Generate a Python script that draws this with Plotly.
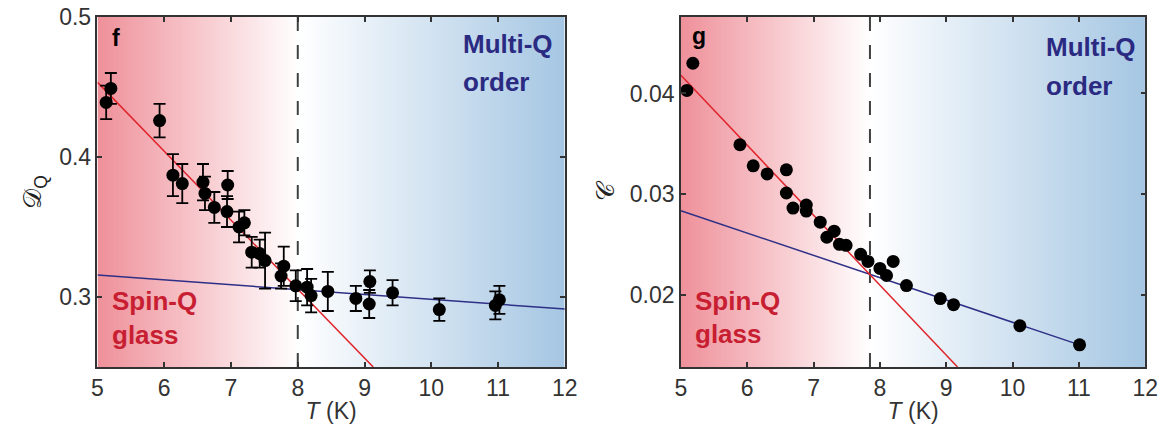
import numpy as np
import plotly.graph_objects as go

# ---------------- data ----------------
# panel f : D_Q vs T with error bars
f_T = [5.13, 5.20, 5.93, 6.13, 6.27, 6.58, 6.61, 6.75, 6.95, 6.94, 7.12, 7.20, 7.31, 7.43,
       7.51, 7.75, 7.79, 7.97, 8.14, 8.20, 8.45, 8.87, 9.08, 9.07, 9.42, 10.12, 10.96, 11.02]
f_D = [0.439, 0.449, 0.426, 0.387, 0.381, 0.382, 0.374, 0.364, 0.380, 0.361, 0.350, 0.353, 0.332, 0.331,
       0.326, 0.315, 0.322, 0.308, 0.307, 0.301, 0.304, 0.299, 0.311, 0.295, 0.303, 0.291, 0.294, 0.298]
f_err = [0.012, 0.011, 0.012, 0.015, 0.014, 0.013, 0.012, 0.011, 0.010, 0.011, 0.011, 0.009, 0.011, 0.010,
         0.020, 0.009, 0.014, 0.011, 0.013, 0.012, 0.014, 0.009, 0.008, 0.010, 0.009, 0.008, 0.010, 0.010]
f_red_T = [5.0, 9.13]
f_red_D = [0.4533, 0.2500]
f_blue_T = [5.0, 12.0]
f_blue_D = [0.3157, 0.2914]
f_Tc = 8.0

# panel g : C vs T
g_T = [5.09, 5.18, 5.89, 6.09, 6.30, 6.59, 6.59, 6.69, 6.89, 6.89, 7.10, 7.20, 7.31, 7.39, 7.49,
       7.71, 7.82, 8.00, 8.10, 8.20, 8.40, 8.91, 9.11, 10.11, 11.01]
g_C = [0.0403, 0.0430, 0.0349, 0.0328, 0.0320, 0.0324, 0.0301, 0.0286, 0.0289, 0.0283, 0.0272, 0.0257,
       0.0263, 0.0250, 0.0249, 0.0240, 0.0233, 0.0226, 0.0219, 0.0233, 0.0209, 0.0196, 0.0190, 0.0169, 0.0150]
g_red_T = [5.0, 9.17]
g_red_C = [0.0418, 0.0128]
g_blue_T = [5.0, 11.01]
g_blue_C = [0.02834, 0.0150]
g_Tc = 7.85

x_range = [5, 12]
f_yrange = [0.25, 0.5]
g_yrange = [0.0128, 0.0476]

# ---------------- style ----------------
FONT = "Liberation Sans"
RED_BG = "#EE8D97"
BLUE_BG = "#A3C5E2"
RED_LINE = "#E0242B"
BLUE_LINE = "#2E2F86"
RED_TXT = "#C81E32"
BLUE_TXT = "#2B2A82"
AX = "#333333"

fig = go.Figure()


def background(xa, ya, yr, tc):
    xs = np.linspace(4.9, 12.1, 200)
    frac = (tc - 4.9) / (12.1 - 4.9)
    fig.add_trace(go.Heatmap(
        x=xs, y=[yr[0] - 1, yr[1] + 1], z=[xs, xs],
        colorscale=[[0, RED_BG], [frac, "#FFFFFF"], [1, BLUE_BG]],
        zsmooth="best", showscale=False, hoverinfo="skip",
        xaxis=xa, yaxis=ya))


background("x", "y", f_yrange, f_Tc)
background("x2", "y2", g_yrange, g_Tc)

# dashed Tc lines
for xa, ya, tc, yr in [("x", "y", f_Tc, f_yrange), ("x2", "y2", g_Tc, g_yrange)]:
    fig.add_trace(go.Scatter(x=[tc, tc], y=yr, mode="lines",
                             line=dict(color="#404040", width=2, dash="14px,14px"),
                             xaxis=xa, yaxis=ya, hoverinfo="skip"))

# fit lines
fig.add_trace(go.Scatter(x=f_blue_T, y=f_blue_D, mode="lines", line=dict(color=BLUE_LINE, width=1.5),
                         xaxis="x", yaxis="y"))
fig.add_trace(go.Scatter(x=f_red_T, y=f_red_D, mode="lines", line=dict(color=RED_LINE, width=1.5),
                         xaxis="x", yaxis="y"))
fig.add_trace(go.Scatter(x=g_blue_T, y=g_blue_C, mode="lines", line=dict(color=BLUE_LINE, width=1.5),
                         xaxis="x2", yaxis="y2"))
fig.add_trace(go.Scatter(x=g_red_T, y=g_red_C, mode="lines", line=dict(color=RED_LINE, width=1.5),
                         xaxis="x2", yaxis="y2"))

# data
fig.add_trace(go.Scatter(x=f_T, y=f_D, mode="markers",
                         marker=dict(color="black", size=13),
                         error_y=dict(type="data", array=f_err, visible=True, color="black",
                                      thickness=1.8, width=6),
                         xaxis="x", yaxis="y"))
fig.add_trace(go.Scatter(x=g_T, y=g_C, mode="markers",
                         marker=dict(color="black", size=13),
                         xaxis="x2", yaxis="y2"))

axis_common = dict(showline=True, linecolor=AX, linewidth=1.5, mirror="ticks",
                   ticks="inside", ticklen=5, tickwidth=1.5, tickcolor=AX,
                   showgrid=False, zeroline=False,
                   tickfont=dict(family=FONT, size=23, color=AX))

W, H = 1174, 429
fig.update_layout(
    width=W, height=H,
    margin=dict(l=0, r=0, t=17, b=62),
    paper_bgcolor="white", plot_bgcolor="white",
    showlegend=False,
    font=dict(family=FONT, color=AX),
    xaxis=dict(domain=[93 / W, 568 / W], range=x_range, dtick=1, anchor="y",
               title=dict(text="<i>T</i> (K)", font=dict(size=23, family=FONT, color=AX), standoff=3),
               **axis_common),
    yaxis=dict(domain=[0, 1], range=f_yrange, tickvals=[0.3, 0.4, 0.5], tickformat=".1f", anchor="x",
               title=dict(text="𝒟<sub>Q</sub>", font=dict(size=25, family=FONT, color="#222"), standoff=10),
               **axis_common),
    xaxis2=dict(domain=[686 / W, 1158 / W], range=x_range, dtick=1, anchor="y2",
                title=dict(text="<i>T</i> (K)", font=dict(size=23, family=FONT, color=AX), standoff=3),
                **axis_common),
    yaxis2=dict(domain=[0, 1], range=g_yrange, tickvals=[0.02, 0.03, 0.04], tickformat=".2f", anchor="x2",
                title=dict(text="𝒞", font=dict(size=25, family=FONT, color="#222"), standoff=8),
                **axis_common),
)

ann = []
def txt(text, x, y, xa, ya, color, size, anchor="left"):
    ann.append(dict(text=text, x=x, y=y, xref=xa, yref=ya, xanchor=anchor, yanchor="middle",
                    showarrow=False, font=dict(family=FONT, size=size, color=color)))

txt("<b>f</b>", 5.272, 0.485, "x", "y", "black", 23, "center")
txt("<b>g</b>", 5.28, 0.0457, "x2", "y2", "black", 23, "center")
txt("<b>Multi-Q</b>", 10.44, 0.4808, "x", "y", BLUE_TXT, 26)
txt("<b>order</b>", 10.44, 0.4534, "x", "y", BLUE_TXT, 26)
txt("<b>Multi-Q</b>", 10.47, 0.04461, "x2", "y2", BLUE_TXT, 26)
txt("<b>order</b>", 10.47, 0.04071, "x2", "y2", BLUE_TXT, 26)
txt("<b>Spin-Q</b>", 5.19, 0.2974, "x", "y", RED_TXT, 26)
txt("<b>glass</b>", 5.19, 0.2731, "x", "y", RED_TXT, 26)
txt("<b>Spin-Q</b>", 5.18, 0.01938, "x2", "y2", RED_TXT, 26)
txt("<b>glass</b>", 5.18, 0.01611, "x2", "y2", RED_TXT, 26)
fig.update_layout(annotations=ann)

fig.write_html("out.html")
